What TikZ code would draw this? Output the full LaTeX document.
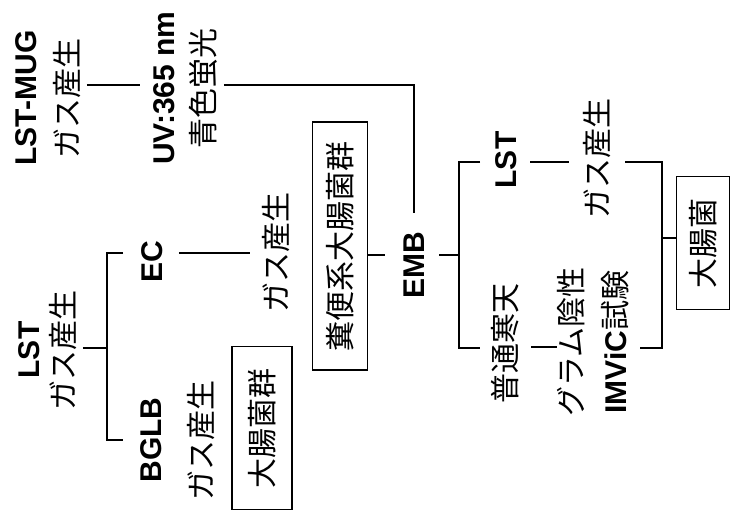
\documentclass[tikz,border=0pt]{standalone}
\usepackage{fontspec}
\setmainfont{Noto Sans CJK JP}
\newfontfamily\latfont{Liberation Sans}
\newcommand{\lt}[1]{{\latfont\bfseries #1}}
\usepackage{tikz}
\usetikzlibrary{positioning}

\begin{document}
\begin{tikzpicture}[
    x=0.75pt, y=-0.75pt,
    font=\fontsize{22.5}{31.5}\selectfont,
    txt/.style={rotate=90, align=center, inner sep=0pt},
    boxed/.style={rotate=90, draw, line width=1pt, inner sep=0pt},
    link/.style={line width=1.5pt}
]
\useasboundingbox (0,0) rectangle (739,525);
% left column
\node[txt] (lstmug) at (48,98) {\lt{LST-MUG}\\ガス産生};
\node[txt] (uv) at (185,88) {\lt{UV:365 nm}\\[-1.5pt]青色蛍光};
\node[txt] (lst1) at (48,350) {\lt{LST}\\[-5pt]ガス産生};
\node[txt] (ec) at (152,262) {\lt{EC}};
\node[txt] (gasec) at (276,252) {ガス産生};
\node[txt] (bglb) at (178,440) {\lt{BGLB}\\[7pt]ガス産生};
\node[boxed, minimum width=122pt, minimum height=45pt] (coli) at (262,428) {大腸菌群};
\node[boxed, minimum width=186pt, minimum height=41pt] (fecal) at (340,246) {糞便系大腸菌群};
% right column
\node[txt] (emb) at (414,265) {\lt{EMB}};
\node[txt] (lst2) at (506,160) {\lt{LST}};
\node[txt] (gas2) at (597,158) {ガス産生};
\node[txt] (agar) at (505,343) {普通寒天};
\node[txt] (gram) at (593,342) {グラム陰性\\[2pt]\lt{IMViC}試験};
\node[boxed, minimum width=100pt, minimum height=40pt] (ecoli) at (703,243) {大腸菌};

\draw[link, shorten <=4.5pt, shorten >=9.75pt] (lstmug.south |- 0,85) -- (uv.north |- 0,85);
\draw[link, shorten <=5pt, shorten >=14pt] (uv.south |- 0,85) -| (emb.east);
\draw[link, shorten <=4pt] (lst1.south |- 0,348) -- (107,348);
\draw[link] (123,253) -- (107,253) -- (107,440) -- (123,440);
\draw[link, shorten <=12pt, shorten >=9pt] (ec.south |- 0,253) -- (gasec.north |- 0,253);
\draw[link, shorten >=13.5pt] (fecal.south |- 0,255) -- (emb.north |- 0,255);
\draw[link, shorten <=11pt] (emb.south |- 0,255) -- (459,255);
\draw[link] (480,162) -- (459,162) -- (459,348) -- (480,348);
\draw[link, shorten <=10pt, shorten >=10.5pt] (lst2.south |- 0,162) -- (gas2.north |- 0,162);
\draw[link, shorten <=10.5pt] (gas2.south |- 0,162) -- (662,162) -- (662,348) -- (640,348);
\draw[link, shorten <=9pt] (agar.south |- 0,347) -- (gram.north |- 0,347);
\draw[link] (662,238) -- (ecoli.north |- 0,238);
\end{tikzpicture}
\end{document}
